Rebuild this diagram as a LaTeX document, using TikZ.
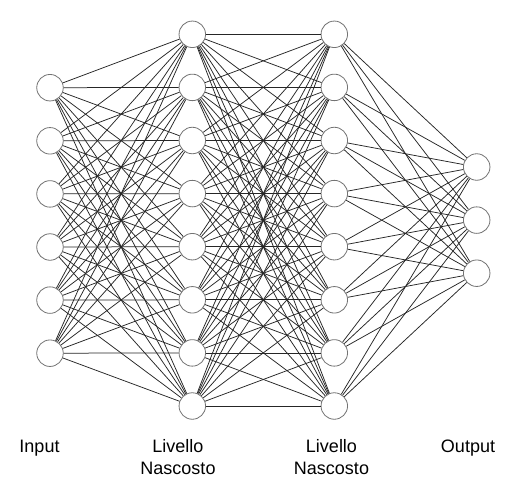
\documentclass[tikz,border=0pt]{standalone}
\usepackage{fontspec}
\setmainfont{Liberation Sans}
\begin{document}
\begin{tikzpicture}[x=1pt,y=-1pt,
  neuron/.style={circle,draw=black!55,fill=white,line width=0.8pt,minimum size=26.5pt,inner sep=0pt},
  conn/.style={draw=black!85,line width=0.75pt},
  lbl/.style={font=\fontsize{18}{22}\selectfont,align=center,anchor=base}]
\useasboundingbox (0,0) rectangle (522,493);
\fill[white] (0,0) rectangle (522,493);
% nodes
\foreach \i in {1,...,6} \node[neuron] (in\i) at (50, {87.7+53.1*(\i-1)}) {};
\foreach \i in {1,...,8} \node[neuron] (ha\i) at (192.3, {34.3+53.1*(\i-1)}) {};
\foreach \i in {1,...,8} \node[neuron] (hb\i) at (334.3, {34.3+53.1*(\i-1)}) {};
\foreach \i in {1,...,3} \node[neuron] (out\i) at (476.7, {167+53.1*(\i-1)}) {};
% connections
\foreach \i in {1,...,6} \foreach \j in {1,...,8} \draw[conn] (in\i) -- (ha\j);
\foreach \i in {1,...,8} \foreach \j in {1,...,8} \draw[conn] (ha\i) -- (hb\j);
\foreach \i in {1,...,8} \foreach \j in {1,...,3} \draw[conn] (hb\i) -- (out\j);
% labels
\node[lbl] (lin) at (39.5,452.7) {Input};
\node[lbl,anchor=north] (lha) at (178,436) {Livello\\Nascosto};
\node[lbl,anchor=north] (lhb) at (331.5,436) {Livello\\Nascosto};
\node[lbl] (lout) at (468,452.7) {Output};
\end{tikzpicture}
\end{document}
